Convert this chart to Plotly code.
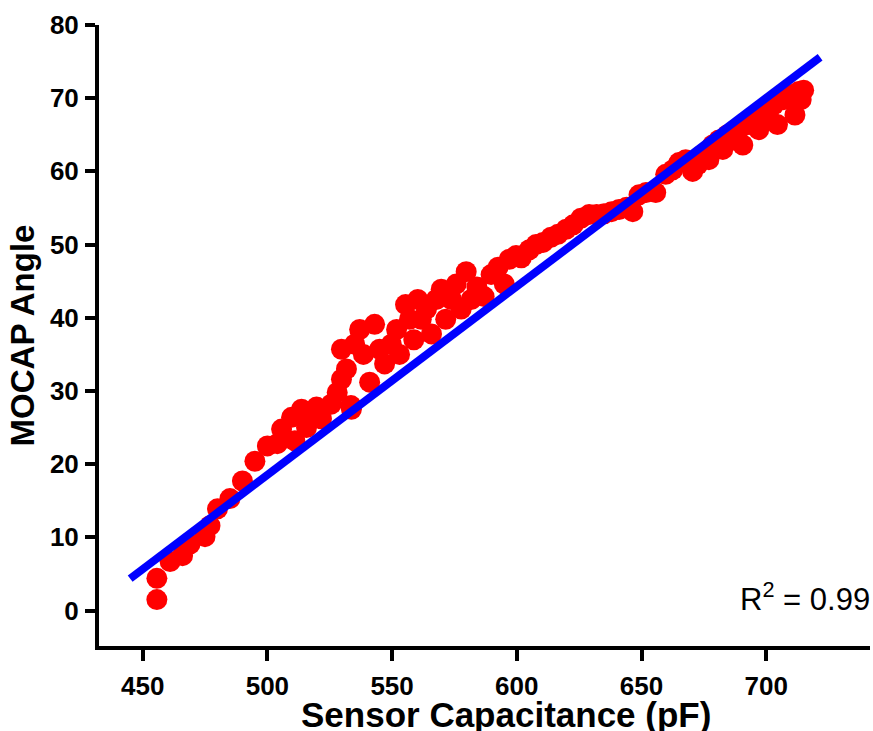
import plotly.graph_objects as go

# Scatter data: Sensor capacitance (pF) vs MOCAP angle (deg)
cap = [455.7, 455.7, 461, 466, 469, 475, 477, 480, 485, 490, 495, 500,
       505.7, 509.7, 511, 513.7, 515.7, 519.7, 521.7, 525.6, 528, 529.7, 531.7, 529.7,
       533.7, 535, 537, 538.5, 541, 543, 545, 547, 549.7, 551.8, 553, 555.4,
       557, 558.7, 560.3, 561.7, 563.8, 565.8, 567.7, 569.7, 571.5, 573.8, 575.7, 577.7,
       579.7, 581.7, 584, 586.9, 589.7, 592.5, 595, 597, 599.7, 601.8, 605, 607.7,
       610.5, 613.7, 616.5, 619.8, 622.6, 625.7, 629, 632, 635, 638, 641, 644,
       646.5, 649, 651.8, 655.7, 659.7, 662.5, 665, 667.7, 669.7, 670.5, 672.5, 674.5,
       677, 678.5, 681, 682.6, 684.5, 687, 689, 690.6, 693, 695, 697, 699,
       701, 703, 704.5, 707, 709, 711.5, 713, 715, 714, 533.5, 504, 517]
angle = [1.5, 4.4, 6.7, 7.5, 9.1, 10.1, 11.6, 13.9, 15.3, 17.7, 20.4, 22.5,
         24.8, 26.4, 23.2, 27.5, 25.0, 27.8, 26.2, 28.2, 29.8, 31.6, 33.0, 35.7,
         27.5, 36.4, 38.4, 35.0, 31.2, 39.1, 35.7, 33.7, 36.4, 38.4, 35.0, 41.8,
         39.8, 37.0, 42.5, 39.8, 41.2, 37.8, 42.5, 43.9, 39.8, 42.5, 44.6, 41.2,
         46.3, 42.5, 44.2, 42.9, 45.9, 46.9, 44.6, 48.0, 48.5, 48.2, 49.3, 50.0,
         50.3, 51.0, 51.4, 52.1, 52.7, 53.6, 54.1, 54.1, 54.2, 54.5, 54.8, 55.1,
         54.5, 56.8, 57.1, 57.1, 59.6, 60.2, 61.2, 61.6, 60.9, 60.0, 60.9, 62.3,
         61.6, 63.6, 64.3, 63.0, 65.0, 64.3, 65.7, 63.6, 66.4, 67.0, 65.7, 68.4,
         67.3, 69.1, 66.4, 69.8, 70.5, 67.7, 70.9, 71.1, 69.8, 28.0, 22.8, 26.0]

# Linear fit line end points
fit_x = [445.0, 721.6]
fit_y = [4.36, 75.6]

x_ticks = [450, 500, 550, 600, 650, 700]
y_ticks = [0, 10, 20, 30, 40, 50, 60, 70, 80]

fig = go.Figure()
fig.add_trace(go.Scatter(x=cap, y=angle, mode="markers",
                         marker=dict(color="rgb(255,0,0)", size=21, line=dict(width=0)),
                         showlegend=False, cliponaxis=False))
fig.add_trace(go.Scatter(x=fit_x, y=fit_y, mode="lines",
                         line=dict(color="rgb(0,0,255)", width=8),
                         showlegend=False, cliponaxis=False))

tick_font = dict(family="Liberation Sans", size=26, color="black", weight="bold")
fig.update_layout(
    width=873, height=731, autosize=False,
    margin=dict(l=99, r=3, t=25, b=85),
    plot_bgcolor="white", paper_bgcolor="white",
    font=dict(family="Liberation Sans", color="black"),
    xaxis=dict(range=[432.5, 741.6], tickmode="array", tickvals=x_ticks, ticks="outside", ticklen=11,
               tickwidth=4, tickcolor="black", showline=True, linewidth=4, linecolor="black",
               showgrid=False, zeroline=False, ticklabelstandoff=3,
               tickfont=tick_font, automargin=False),
    yaxis=dict(range=[-4.84, 80], tickmode="array", tickvals=y_ticks, ticks="outside", ticklen=10,
               tickwidth=4, tickcolor="black", showline=True, linewidth=4, linecolor="black",
               showgrid=False, zeroline=False, ticklabelstandoff=1,
               tickfont=tick_font, automargin=False,
               title=dict(text="<b>MOCAP Angle</b>", standoff=6,
                          font=dict(family="Liberation Sans", size=33, color="black"))),
    annotations=[
        dict(text="R<sup>2</sup> = 0.99", xref="x", yref="y", x=688.5, y=1.9,
             xanchor="left", yanchor="middle", showarrow=False,
             font=dict(family="Liberation Sans", size=31, color="black")),
        dict(text="<b>Sensor Capacitance (pF)</b>", xref="paper", yref="paper",
             x=0.5285, y=0, yshift=-68, xanchor="center", yanchor="middle", showarrow=False,
             font=dict(family="Liberation Sans", size=35, color="black")),
    ],
)
fig.write_html("out.html", config={"displayModeBar": False},
               post_script="document.body.style.margin='0px';document.body.style.overflow='hidden';")
